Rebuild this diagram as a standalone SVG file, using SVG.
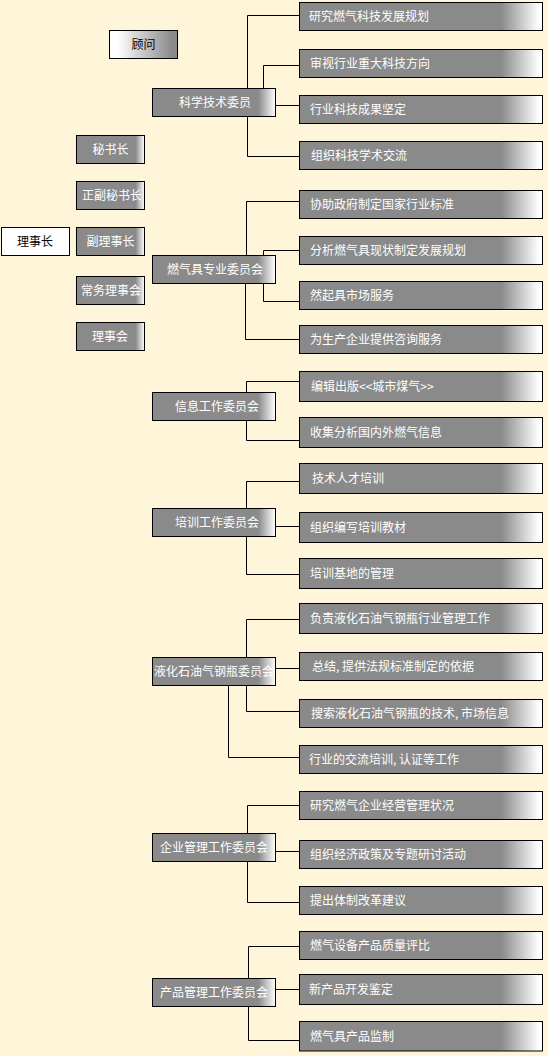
<svg xmlns="http://www.w3.org/2000/svg" width="548" height="1056" viewBox="0 0 548 1056">
<defs>
<linearGradient id="gR" x1="0" y1="0" x2="1" y2="0"><stop offset="0.83" stop-color="#8a8a8a"/><stop offset="0.985" stop-color="#ffffff"/></linearGradient>
<linearGradient id="gC" x1="0" y1="0" x2="1" y2="0"><stop offset="0.86" stop-color="#8a8a8a"/><stop offset="1" stop-color="#ffffff"/></linearGradient>
<linearGradient id="gS" x1="0" y1="0" x2="1" y2="0"><stop offset="0.87" stop-color="#8a8a8a"/><stop offset="1" stop-color="#ffffff"/></linearGradient>
<linearGradient id="gW" x1="0" y1="0" x2="1" y2="0"><stop offset="0.12" stop-color="#ffffff"/><stop offset="0.92" stop-color="#8a8a8a"/></linearGradient>
</defs>
<style>
.r{fill:url(#gR);stroke:#000;stroke-width:1}
.c{fill:url(#gC);stroke:#000;stroke-width:1}
.s{fill:url(#gS);stroke:#000;stroke-width:1}
.w{fill:#fff;stroke:#000;stroke-width:1}
.gw{fill:url(#gW);stroke:#000;stroke-width:1}
text{font-family:"Noto Sans CJK SC","Liberation Sans",sans-serif;font-size:12px;fill:#fff}
.m{text-anchor:middle}
.k{fill:#000}
#conn path{fill:none;stroke:#000;stroke-width:1}
</style>
<rect width="548" height="1056" fill="#fff5d8"/>
<g id="conn">
<path d="M247.5 88 V15.5 H299"/>
<path d="M263.5 88 V65.5 H299"/>
<path d="M276 105.5 H299"/>
<path d="M247.5 117 V156.5 H299"/>
<path d="M246.5 255 V201.5 H299"/>
<path d="M263.5 255 V250.5 H299"/>
<path d="M263.5 284 V301.5 H299"/>
<path d="M245.5 284 V339.5 H299"/>
<path d="M246.5 392 V381.5 H299"/>
<path d="M246.5 421 V440.5 H299"/>
<path d="M246.5 508 V481.5 H299"/>
<path d="M276 526.5 H299"/>
<path d="M246.5 537 V574.5 H299"/>
<path d="M246.5 657 V619.5 H299"/>
<path d="M276 668.5 H299"/>
<path d="M246.5 686 V711.5 H299"/>
<path d="M228.5 686 V757.5 H299"/>
<path d="M247.5 833 V805.5 H299"/>
<path d="M276 851.5 H299"/>
<path d="M247.5 862 V902.5 H299"/>
<path d="M248.5 978 V946.5 H299"/>
<path d="M276 989.5 H299"/>
<path d="M248.5 1007 V1040.5 H299"/>
</g>
<g id="guwen"><rect class="gw" x="109.5" y="30.5" width="68" height="28"/><text class="m k" x="143.5" y="49">顾问</text></g>
<g id="mishuzhang"><rect class="s" x="76.5" y="135.5" width="68" height="28"/><text class="m" x="110.5" y="154">秘书长</text></g>
<g id="zhengfumishuzhang"><rect class="s" x="76.5" y="181.5" width="68" height="28"/><text class="m" x="112" y="200">正副秘书长</text></g>
<g id="lishizhang"><rect class="w" x="1.5" y="227.5" width="68" height="28"/><text class="m k" x="35" y="246">理事长</text></g>
<g id="fulishizhang"><rect class="s" x="76.5" y="227.5" width="68" height="28"/><text class="m" x="110.5" y="246">副理事长</text></g>
<g id="changwu"><rect class="s" x="76.5" y="276.5" width="68" height="28"/><text class="m" x="111" y="295">常务理事会</text></g>
<g id="lishihui"><rect class="s" x="76.5" y="322.5" width="68" height="28"/><text class="m" x="110" y="341">理事会</text></g>

<g id="kexue"><rect class="c" x="152.5" y="88.5" width="123" height="28"/><text class="m" x="215" y="107">科学技术委员</text></g>
<g id="k1"><rect class="r" x="299.5" y="2.5" width="243" height="28"/><text x="309" y="21">研究燃气科技发展规划</text></g>
<g id="k2"><rect class="r" x="299.5" y="49.5" width="243" height="28"/><text x="310" y="68">审视行业重大科技方向</text></g>
<g id="k3"><rect class="r" x="299.5" y="95.5" width="243" height="28"/><text x="310" y="114">行业科技成果坚定</text></g>
<g id="k4"><rect class="r" x="299.5" y="141.5" width="243" height="28"/><text x="311" y="160">组织科技学术交流</text></g>

<g id="ranqiju"><rect class="c" x="152.5" y="255.5" width="123" height="28"/><text class="m" x="215" y="274">燃气具专业委员会</text></g>
<g id="r1"><rect class="r" x="299.5" y="190.5" width="243" height="28"/><text x="310" y="209">协助政府制定国家行业标准</text></g>
<g id="r2"><rect class="r" x="299.5" y="236.5" width="243" height="28"/><text x="310" y="255">分析燃气具现状制定发展规划</text></g>
<g id="r3"><rect class="r" x="299.5" y="281.5" width="243" height="28"/><text x="310" y="300">然起具市场服务</text></g>
<g id="r4"><rect class="r" x="299.5" y="325.5" width="243" height="28"/><text x="310" y="344">为生产企业提供咨询服务</text></g>

<g id="xinxi"><rect class="c" x="152.5" y="392.5" width="123" height="28"/><text class="m" x="217" y="411">信息工作委员会</text></g>
<g id="x1"><rect class="r" x="299.5" y="371.5" width="243" height="30"/><text x="311" y="391">编辑出版&lt;&lt;城市煤气&gt;&gt;</text></g>
<g id="x2"><rect class="r" x="299.5" y="417.5" width="243" height="30"/><text x="310" y="437">收集分析国内外燃气信息</text></g>

<g id="peixun"><rect class="c" x="152.5" y="508.5" width="123" height="28"/><text class="m" x="217" y="527">培训工作委员会</text></g>
<g id="p1"><rect class="r" x="299.5" y="463.5" width="243" height="30"/><text x="312" y="483">技术人才培训</text></g>
<g id="p2"><rect class="r" x="299.5" y="512.5" width="243" height="30"/><text x="310" y="532">组织编写培训教材</text></g>
<g id="p3"><rect class="r" x="299.5" y="558.5" width="243" height="30"/><text x="310" y="578">培训基地的管理</text></g>

<g id="yehua"><rect class="c" x="152.5" y="657.5" width="123" height="28"/><text class="m" x="214" y="676">液化石油气钢瓶委员会</text></g>
<g id="y1"><rect class="r" x="299.5" y="603.5" width="243" height="30"/><text x="310" y="623">负责液化石油气钢瓶行业管理工作</text></g>
<g id="y2"><rect class="r" x="299.5" y="652.5" width="243" height="28"/><text x="312" y="671">总结, 提供法规标准制定的依据</text></g>
<g id="y3"><rect class="r" x="299.5" y="699.5" width="243" height="28"/><text x="311" y="718">搜索液化石油气钢瓶的技术, 市场信息</text></g>
<g id="y4"><rect class="r" x="299.5" y="745.5" width="243" height="28"/><text x="309" y="764">行业的交流培训, 认证等工作</text></g>

<g id="qiye"><rect class="c" x="152.5" y="833.5" width="123" height="28"/><text class="m" x="214" y="852">企业管理工作委员会</text></g>
<g id="q1"><rect class="r" x="299.5" y="791.5" width="243" height="28"/><text x="310" y="810">研究燃气企业经营管理状况</text></g>
<g id="q2"><rect class="r" x="299.5" y="840.5" width="243" height="28"/><text x="310" y="859">组织经济政策及专题研讨活动</text></g>
<g id="q3"><rect class="r" x="299.5" y="886.5" width="243" height="28"/><text x="310" y="905">提出体制改革建议</text></g>

<g id="chanpin"><rect class="c" x="152.5" y="978.5" width="123" height="28"/><text class="m" x="214" y="997">产品管理工作委员会</text></g>
<g id="c1"><rect class="r" x="299.5" y="931.5" width="243" height="28"/><text x="310" y="950">燃气设备产品质量评比</text></g>
<g id="c2"><rect class="r" x="299.5" y="974.5" width="243" height="30"/><text x="309" y="994">新产品开发鉴定</text></g>
<g id="c3"><rect class="r" x="299.5" y="1021.5" width="243" height="29.5"/><text x="310" y="1041">燃气具产品监制</text></g>
</svg>
